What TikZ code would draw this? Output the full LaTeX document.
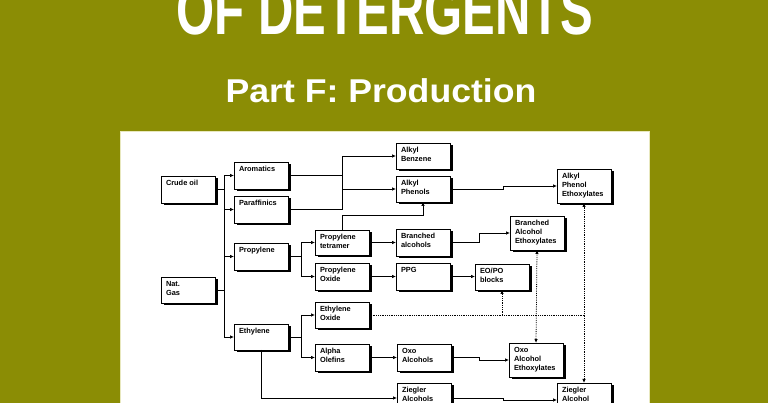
\documentclass[tikz,border=0pt]{standalone}
\usepackage{fontspec}
\setmainfont{Liberation Sans}
\usetikzlibrary{arrows.meta,shadows}
\definecolor{titlegreen}{RGB}{139,141,5}
\definecolor{panelrim}{RGB}{232,232,190}
\newcommand{\boxtext}[2][18pt]{\parbox[t][#1][t]{44pt}{\raggedright #2}}

\begin{document}
\begin{tikzpicture}[x=1pt,y=1pt,>={Latex[length=4pt,width=3.5pt]},
   box/.style={draw,fill=white,line width=0.8pt,anchor=north west,
      inner xsep=5pt,inner ysep=4.5pt,outer sep=0pt,
      font=\fontsize{7.4}{9}\selectfont\bfseries,
      drop shadow={shadow xshift=2.5pt,shadow yshift=-2.5pt,fill=black,opacity=1}},
   link/.style={line width=0.7pt,->},
   plain/.style={line width=0.7pt},
   eoline/.style={line width=0.8pt,densely dotted},
   heading/.style={text=white,anchor=base,inner sep=0pt}]
\useasboundingbox (0,0) rectangle (768,403);
\clip (0,0) rectangle (768,403);
\fill[titlegreen] (0,0) rectangle (768,403);
\node[heading,font=\fontsize{70}{70}\selectfont\bfseries,xscale=0.7] (title) at (385,368) {OF DETERGENTS};
\node[heading,font=\fontsize{33}{33}\selectfont\bfseries,xscale=1.08] (subtitle) at (381,300) {Part F: Production};
\draw[fill=white,draw=panelrim,line width=1pt] (120,-5) rectangle (649,271);

\node[box] (crude) at (161,227) {\boxtext{Crude oil}};
\node[box] (aromatics) at (234,241) {\boxtext{Aromatics}};
\node[box] (paraffinics) at (234,207) {\boxtext{Paraffinics}};
\node[box] (propylene) at (234,160) {\boxtext{Propylene}};
\node[box] (natgas) at (161,126) {\boxtext[17pt]{Nat.\\Gas}};
\node[box] (ethylene) at (234,79) {\boxtext[17pt]{Ethylene}};
\node[box] (tetramer) at (315,173) {\boxtext[16pt]{Propylene\\tetramer}};
\node[box] (propoxide) at (315,140) {\boxtext{Propylene\\Oxide}};
\node[box] (ethoxide) at (315,101) {\boxtext[17pt]{Ethylene\\Oxide}};
\node[box] (olefins) at (315,59) {\boxtext{Alpha\\Olefins}};
\node[box] (alkbenz) at (396,260) {\boxtext[17pt]{Alkyl\\Benzene}};
\node[box] (alkphen) at (396,227) {\boxtext[17pt]{Alkyl\\Phenols}};
\node[box] (branched) at (396,174) {\boxtext{Branched\\alcohols}};
\node[box] (ppg) at (396,140) {\boxtext{PPG}};
\node[box] (oxo) at (397,59) {\boxtext{Oxo\\Alcohols}};
\node[box] (ziegler) at (397,20) {\boxtext[21pt]{Ziegler\\Alcohols}};
\node[box] (eopo) at (475,139) {\boxtext[17pt]{EO/PO\\blocks}};
\node[box] (ape) at (557,234) {\boxtext[25pt]{Alkyl\\Phenol\\Ethoxylates}};
\node[box] (bae) at (510,187) {\boxtext[25pt]{Branched\\Alcohol\\Ethoxylates}};
\node[box] (oae) at (509,60) {\boxtext[25pt]{Oxo\\Alcohol\\Ethoxylates}};
\node[box] (zae) at (557,20) {\boxtext[25pt]{Ziegler\\Alcohol}};

\coordinate (trunk) at (224,0);
\coordinate (split) at (301,0);
\coordinate (fork) at (342,0);

\draw[plain] (crude.east) -- (crude.east -| trunk);
\draw[plain] (natgas.east) -- (natgas.east -| trunk);
\draw[plain] (aromatics.west -| trunk) -- (ethylene.west -| trunk);
\foreach \n in {aromatics,paraffinics,propylene,ethylene}
	\draw[link] (\n.west -| trunk) -- (\n.west);

\draw[plain] (aromatics.east) -- (aromatics.east -| fork);
\draw[plain] (paraffinics.east) -- (paraffinics.east -| fork) -- (alkbenz.west -| fork);
\foreach \n in {alkbenz,alkphen}
	\draw[link] (\n.west -| fork) -- (\n.west);
\draw[link] (tetramer.north) -- ++(0,15) -| (alkphen.south);

\draw[plain] (propylene.east) -- (propylene.east -| split);
\draw[plain] (tetramer.west -| split) -- (propoxide.west -| split);
\draw[plain] (ethylene.east) -- (ethylene.east -| split);
\draw[plain] (ethoxide.west -| split) -- (olefins.west -| split);
\foreach \n in {tetramer,propoxide,ethoxide,olefins}
	\draw[link] (\n.west -| split) -- (\n.west);
\draw[link] (ethylene.south) |- (ziegler.west);

\draw[link] (tetramer.east) -- (branched.west);
\draw[link] (propoxide.east) -- (ppg.west);
\draw[link] (ppg.east) -- (ppg.east -| eopo.west);
\draw[link] (olefins.east) -- (oxo.west);
\draw[link] (alkphen.east) -- ++(53,0) |- (ape.west);
\draw[link] (branched.east) -- ++(29,0) |- (bae.west);
\draw[link] (oxo.east) -- ++(28,0) |- (oae.west);
\draw[link] (ziegler.east) -- ++(52,0) |- (zae.west);

\draw[eoline] (ethoxide.east) -- (ethoxide.east -| ape.south);
\draw[eoline,->] (ethoxide.east -| eopo.south) -- (eopo.south);
\draw[eoline,<->] (bae.south) -- (oae.north);
\draw[eoline,<->] (ape.south) -- (zae.north);
\end{tikzpicture}
\end{document}
